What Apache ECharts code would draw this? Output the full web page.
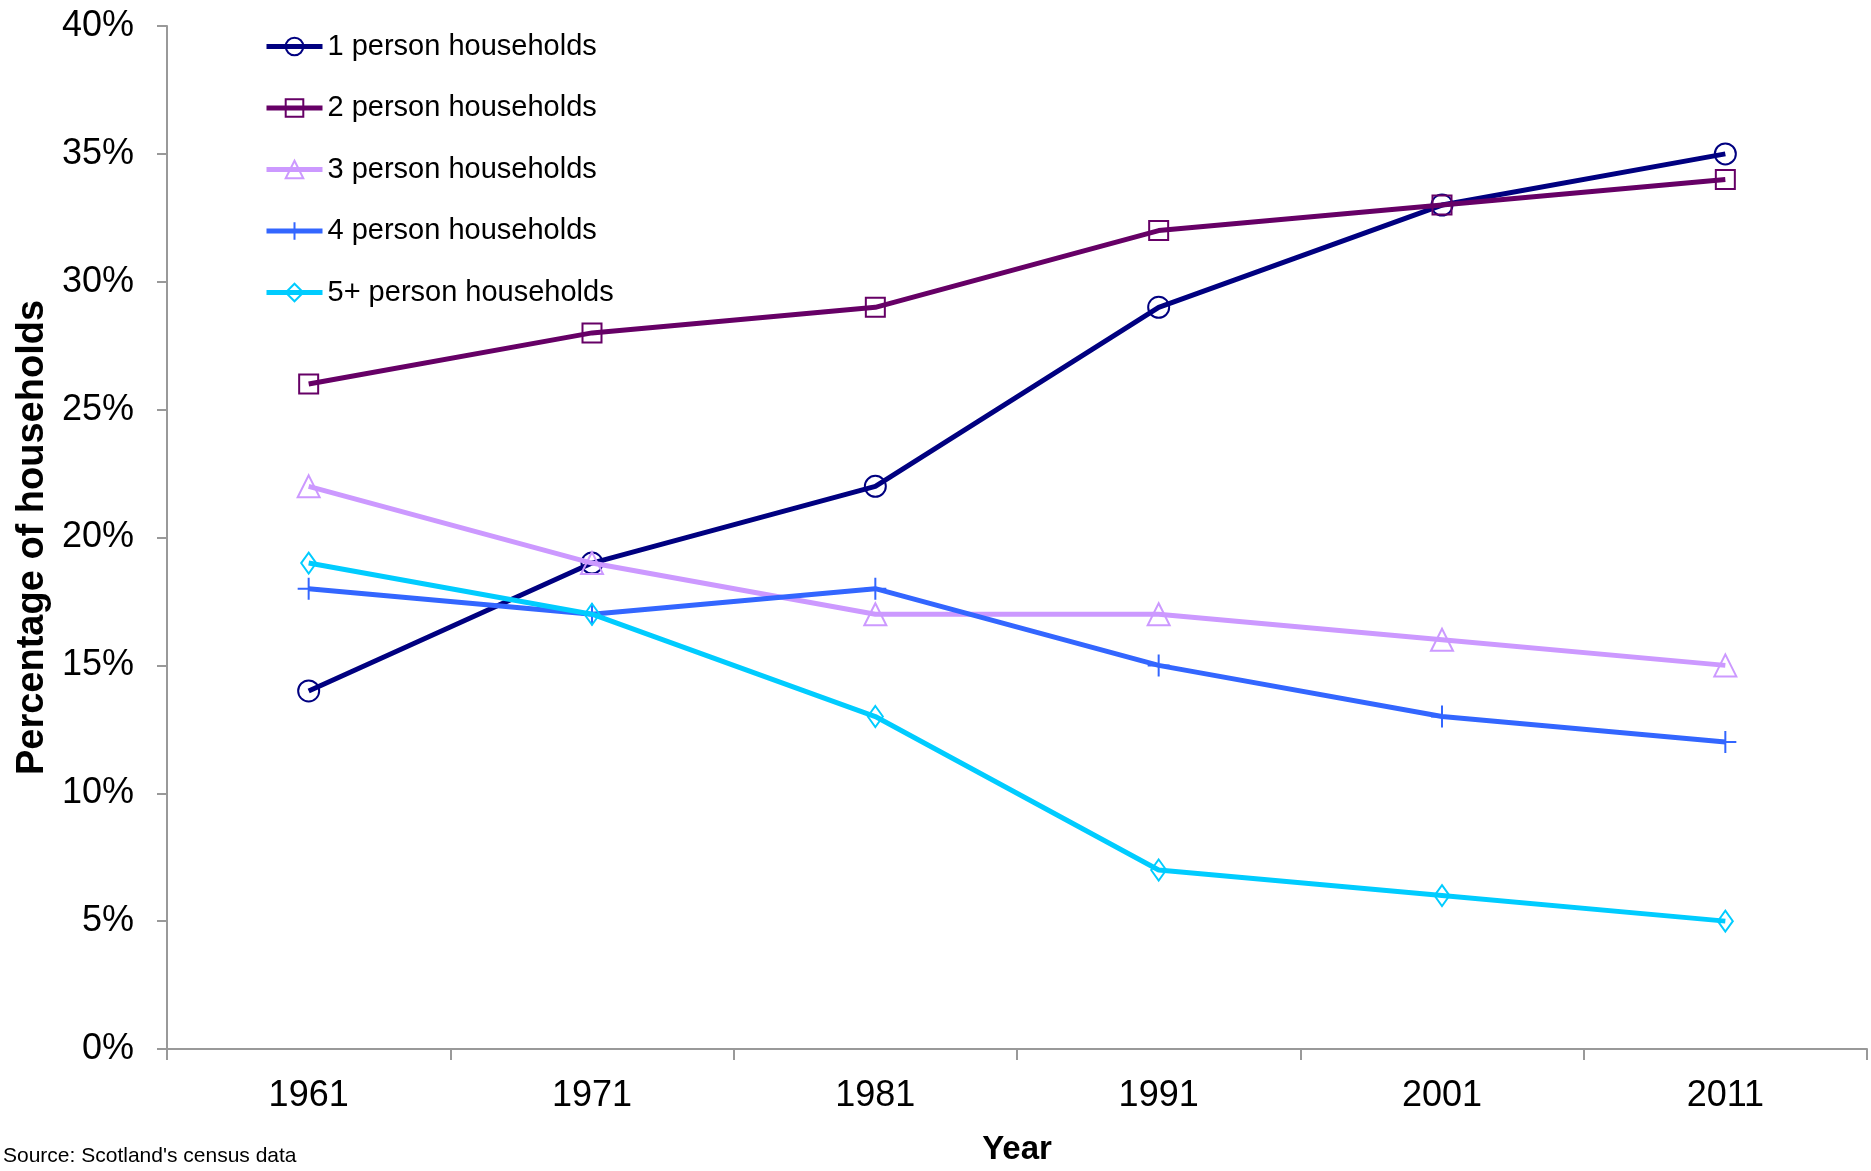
<!DOCTYPE html>
<html>
<head>
<meta charset="utf-8">
<script src="https://cdn.jsdelivr.net/npm/echarts@6/dist/echarts.min.js"></script>
<style>
html,body{margin:0;padding:0;background:#fff;}
#chart{width:1871px;height:1171px;}
</style>
</head>
<body>
<div id="chart"></div>
<script>
var years = ['1961', '1971', '1981', '1991', '2001', '2011'];
var onePerson = [14, 19, 22, 29, 33, 35];
var twoPerson = [26, 28, 29, 32, 33, 34];
var threePerson = [22, 19, 17, 17, 16, 15];
var fourPerson = [18, 17, 18, 15, 13, 12];
var fivePlusPerson = [19, 17, 13, 7, 6, 5];
var seriesNames = ['1 person households', '2 person households', '3 person households', '4 person households', '5+ person households'];

var FONT = 'Liberation Sans, Arial, sans-serif';
var colors = ['#000080', '#660066', '#CC99FF', '#3366FF', '#00CCFF'];
var symbols = ['circle', 'rect', 'triangle', 'path://M10,0L10,20M0,10L20,10', 'diamond'];
var sizes = [21, 19, 22, 22, [15, 21]];
var dataSets = [onePerson, twoPerson, threePerson, fourPerson, fivePlusPerson];

var series = dataSets.map(function (d, i) {
  return {
    name: seriesNames[i],
    type: 'line',
    data: d,
    symbol: symbols[i],
    symbolSize: sizes[i],
    showAllSymbol: true,
    lineStyle: { color: colors[i], width: 5 },
    itemStyle: { color: 'rgba(0,0,0,0)', borderColor: colors[i], borderWidth: 2 },
    emphasis: { disabled: true },
    z: 2 + i
  };
});

var chart = echarts.init(document.getElementById('chart'));
chart.setOption({
  animation: false,
  backgroundColor: '#fff',
  title: {
    text: "Source: Scotland's census data",
    left: 0,
    top: 1146,
    padding: [0, 0, 0, 3],
    textStyle: { fontFamily: FONT, fontSize: 21, fontWeight: 'normal', color: '#000' }
  },
  legend: {
    orient: 'vertical',
    left: 259,
    top: 27,
    itemWidth: 56,
    itemHeight: 22,
    itemGap: 32.5,
    selectedMode: false,
    data: seriesNames,
    lineStyle: { width: 5 },
    textStyle: { fontFamily: FONT, fontSize: 29, color: '#000' }
  },
  grid: { left: 167, right: 4, top: 26, bottom: 114, containLabel: false },
  xAxis: {
    type: 'category',
    data: years,
    boundaryGap: true,
    name: 'Year',
    nameLocation: 'middle',
    nameGap: 84,
    nameTextStyle: { fontFamily: FONT, fontSize: 33, fontWeight: 'bold', color: '#000' },
    axisLine: { lineStyle: { color: '#999', width: 2 } },
    axisTick: { show: true, length: 11, inside: false, interval: 0, lineStyle: { color: '#999', width: 2 } },
    axisLabel: { fontFamily: FONT, fontSize: 36, color: '#000', margin: 29, interval: 0 },
    splitLine: { show: false }
  },
  yAxis: {
    type: 'value',
    min: 0,
    max: 40,
    interval: 5,
    name: 'Percentage of households',
    nameLocation: 'middle',
    nameGap: 115,
    nameRotate: 90,
    nameTextStyle: { fontFamily: FONT, fontSize: 38, fontWeight: 'bold', color: '#000' },
    axisLine: { show: true, lineStyle: { color: '#999', width: 2 } },
    axisTick: { show: true, length: 10, inside: false, lineStyle: { color: '#999', width: 2 } },
    axisLabel: { fontFamily: FONT, fontSize: 36, color: '#000', margin: 33, formatter: '{value}%' },
    splitLine: { show: false }
  },
  series: series
});
</script>
</body>
</html>
